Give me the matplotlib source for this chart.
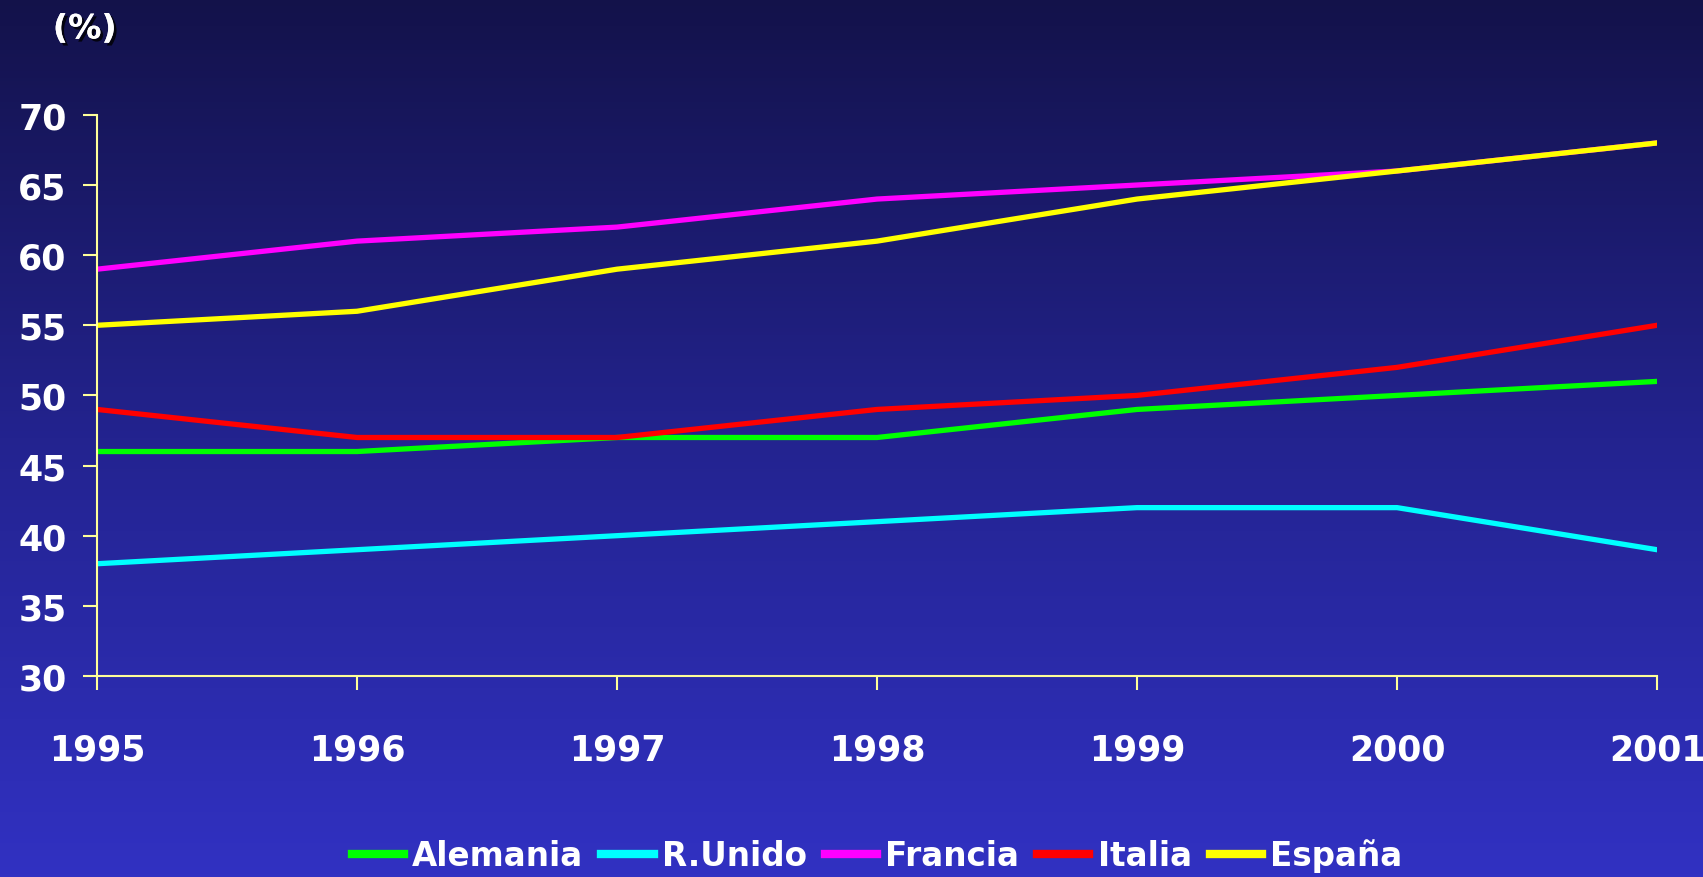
import matplotlib.pyplot as plt
import matplotlib.patheffects as pe
import numpy as np
from matplotlib.colors import LinearSegmentedColormap

years = ['1995', '1996', '1997', '1998', '1999', '2000', '2001']
alemania = [46, 46, 47, 47, 49, 50, 51]
r_unido = [38, 39, 40, 41, 42, 42, 39]
francia = [59, 61, 62, 64, 65, 66, 68]
italia = [49, 47, 47, 49, 50, 52, 55]
espana = [55, 56, 59, 61, 64, 66, 68]

series = [
    ('Alemania', alemania, '#00ff00'),
    ('R.Unido', r_unido, '#00ffff'),
    ('Francia', francia, '#ff00ff'),
    ('Italia', italia, '#ff0000'),
    ('España', espana, '#ffff00'),
]

plt.rcParams['font.family'] = ['DejaVu Sans']
plt.rcParams['font.weight'] = 'bold'

fig = plt.figure(figsize=(17.03, 8.78), dpi=100)

# gradient background
bg = fig.add_axes([0, 0, 1, 1], zorder=-10)
grad = np.linspace(0, 1, 256).reshape(-1, 1)
cmap = LinearSegmentedColormap.from_list('bg', ['#13124a', '#23238f', '#3131c2'])
bg.imshow(grad, aspect='auto', cmap=cmap, extent=[0, 1, 0, 1], origin='upper')
bg.axis('off')

ax = fig.add_axes([0.057, 0.229, 0.916, 0.639])
ax.patch.set_alpha(0)

x = np.arange(len(years))
for name, vals, color in series:
    ax.plot(x, vals, color=color, lw=3.8, label=name)

ax.set_xlim(0, len(years) - 1)
ax.set_ylim(30, 70)
ax.set_yticks(range(30, 71, 5))
ax.set_xticks(x)
ax.set_xticklabels(years)

axis_col = '#ffff99'
for side in ['top', 'right']:
    ax.spines[side].set_visible(False)
for side in ['left', 'bottom']:
    ax.spines[side].set_color(axis_col)
    ax.spines[side].set_linewidth(1.5)
ax.tick_params(axis='both', color=axis_col, width=1.5, length=10, direction='out',
               labelcolor='white', labelsize=25)
ax.tick_params(axis='x', pad=31)
ax.tick_params(axis='y', pad=12)
for lbl in ax.get_xticklabels() + ax.get_yticklabels():
    lbl.set_fontweight('bold')

fig.text(0.031, 0.966, '(%)', color='white', fontsize=24, fontweight='bold',
         va='center', ha='left',
         path_effects=[pe.withSimplePatchShadow(offset=(2, -2), shadow_rgbFace='black', alpha=0.8), pe.Normal()])

leg = fig.legend(loc='center', bbox_to_anchor=(0.515, 0.025), ncol=5, frameon=False,
                 fontsize=23.5, handlelength=1.6, handletextpad=0.25, columnspacing=0.55)
for t in leg.get_texts():
    t.set_color('white')
    t.set_fontweight('bold')
for h in leg.get_lines():
    h.set_linewidth(6)

plt.savefig('out.png', dpi=100)
